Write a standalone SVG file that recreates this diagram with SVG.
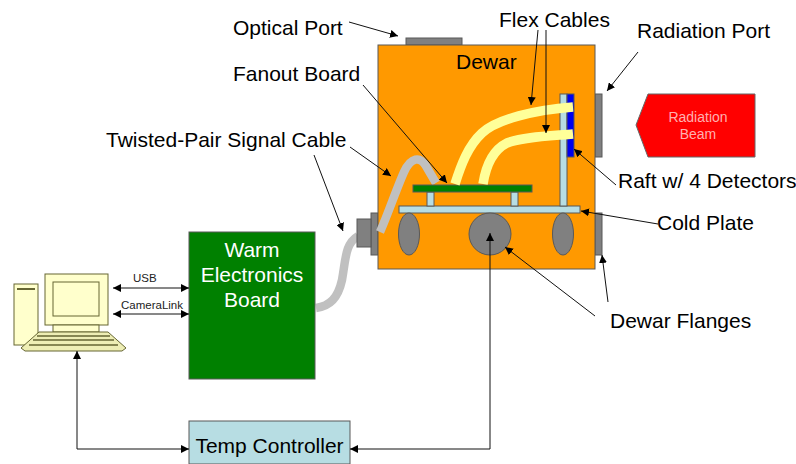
<svg xmlns="http://www.w3.org/2000/svg" width="796" height="464" viewBox="0 0 796 464">
<style>
text{font-family:"Liberation Sans",Arial,sans-serif;fill:#000}
.l{font-size:21px}
.s{font-size:11.500px;fill:#222}
.o{stroke:#595959;stroke-width:1}
.g{fill:#808080;stroke:#595959;stroke-width:1}
.b{fill:#b7dde3;stroke:#595959;stroke-width:1}
.ln{fill:none;stroke:#111;stroke-width:1;marker-end:url(#a)}
.ln2{fill:none;stroke:#111;stroke-width:1;marker-end:url(#a);marker-start:url(#as)}
.fx{fill:none;stroke:#ffff99;stroke-width:9.500}
.cb{fill:none;stroke:#c0c0c0;stroke-width:8.500}
.c{fill:#ffffcc;stroke:#666633;stroke-width:1}
</style>
<defs>
<marker id="a" markerUnits="userSpaceOnUse" markerWidth="9" markerHeight="8" refX="8" refY="4" orient="auto"><path d="M0 0L8 4L0 8Z" fill="#000"/></marker>
<marker id="as" markerUnits="userSpaceOnUse" markerWidth="9" markerHeight="8" refX="0" refY="4" orient="auto"><path d="M8 0L0 4L8 8Z" fill="#000"/></marker>
</defs>
<g id="warm-cable"><path class="cb" d="M316 308C330 306 338 298 342 280C346 258 345 244 358 236"/></g>
<g id="optical-port"><rect class="g" x="406" y="38" width="56" height="7"/></g>
<g id="radiation-port"><rect class="g" x="595" y="94" width="7" height="63"/></g>
<g id="flange-right"><rect class="g" x="595" y="213" width="7" height="42"/></g>
<g id="connector"><rect class="g" x="371" y="213" width="7" height="42"/><rect class="g" x="357" y="219" width="14" height="28"/></g>
<g id="dewar"><rect x="378" y="45" width="217" height="224" fill="#ff9900" class="o"/><text class="l" x="456" y="69">Dewar</text></g>
<g id="signal-cable"><path class="cb" d="M380 232C388 214 396 190 404 172C411 157 420 156 426 166C430 173 433 178 436 183"/></g>
<g id="cold-plate"><rect class="b" x="399" y="206" width="181" height="7"/><rect class="b" x="427" y="192" width="7" height="14"/><rect class="b" x="511" y="192" width="7" height="14"/><rect class="b" x="560" y="94" width="7" height="112"/></g>
<g id="raft"><rect x="567" y="94" width="7" height="63" fill="#0000ee" class="o"/></g>
<g id="fanout-board"><rect x="413" y="185" width="119" height="7" fill="#008000" class="o"/></g>
<g id="flex-cables"><path class="fx" d="M455 184C461 165 468 146 482 133C497 119 535 110 573 107"/><path class="fx" d="M483 184C486 165 493 150 507 143C522 137 550 136 573 134"/></g>
<g id="dewar-flanges"><ellipse class="g" cx="409" cy="234" rx="10.500" ry="21"/><ellipse class="g" cx="490" cy="234" rx="21" ry="21"/><ellipse class="g" cx="563" cy="234" rx="10.500" ry="21"/></g>
<g id="warm-board"><rect x="189" y="232" width="126" height="147" fill="#008000" class="o"/><text x="252" y="257" text-anchor="middle" font-size="21" style="fill:#fff">Warm</text><text x="252" y="282" text-anchor="middle" font-size="21" style="fill:#fff">Electronics</text><text x="252" y="307" text-anchor="middle" font-size="21" style="fill:#fff">Board</text></g>
<g id="temp-controller"><rect x="189" y="421" width="161" height="43" fill="#b7dde3" class="o"/><text class="l" x="269.500" y="453" text-anchor="middle">Temp Controller</text></g>
<g id="beam"><path d="M648 94H755V157H648L636 125Z" fill="#ff0000" stroke="#666" stroke-width="1"/><text x="698" y="122" text-anchor="middle" font-size="14px" style="fill:#ffb0b0">Radiation</text><text x="698" y="139" text-anchor="middle" font-size="14px" style="fill:#ffb0b0">Beam</text></g>
<g id="computer">
<rect class="c" x="14" y="284" width="24" height="61"/><rect x="17" y="288" width="18" height="2" fill="#666633"/>
<rect class="c" x="45" y="274" width="63" height="51"/><rect class="c" x="53" y="282" width="46" height="34"/>
<rect class="c" x="53" y="325" width="46" height="7"/>
<path class="c" d="M39 332H108L126 348L122 351H25L21 348Z" style="fill:#eeeeb5"/>
<path d="M37 336H110M33 340H114M29 345H118" stroke="#666633" stroke-width="1.500" fill="none"/>
</g>
<g id="connectors" fill="none">
<path class="ln2" d="M113 288H189"/><path class="ln2" d="M113 314H189"/>
<path class="ln" d="M77 449V351"/><path class="ln" d="M77 449H189"/>
<path class="ln" d="M490 449H350"/><path class="ln" d="M490 449V233"/>
<path class="ln" d="M349 22L398 36"/><path class="ln" d="M638 52L607 91"/>
<path class="ln" d="M538 30L531 105"/><path class="ln" d="M546 30V133"/>
<path class="ln" d="M363 85L447 183"/><path class="ln" d="M350 147L391 176"/><path class="ln" d="M314 155L343 231"/>
<path class="ln" d="M616 185L574 149"/><path class="ln" d="M658 224L581 211"/>
<path class="ln" d="M608 302L602 255"/><path class="ln" d="M595 316L505 247"/>
</g>
<g id="labels">
<text class="l" x="233" y="35">Optical Port</text><text class="l" x="637" y="38">Radiation Port</text><text class="l" x="499" y="27">Flex Cables</text>
<text class="l" x="233" y="81">Fanout Board</text><text class="l" x="106" y="147">Twisted-Pair Signal Cable</text>
<text class="l" x="618" y="188">Raft w/ 4 Detectors</text><text class="l" x="657" y="230">Cold Plate</text><text class="l" x="610" y="328">Dewar Flanges</text>
<text class="s" x="133" y="282">USB</text><text class="s" x="121" y="309">CameraLink</text>
</g>
</svg>
